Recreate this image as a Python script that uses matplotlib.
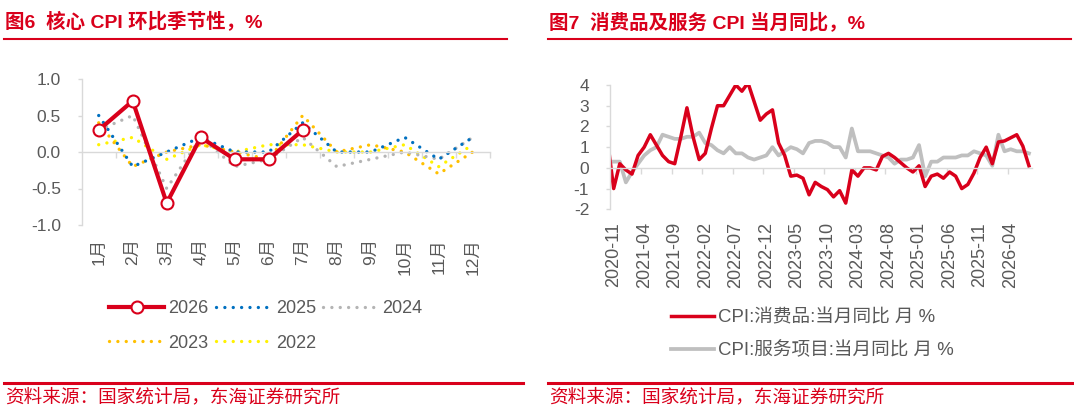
import numpy as np
import pandas as pd
import matplotlib
matplotlib.use('Agg')
import matplotlib.pyplot as plt
from matplotlib.lines import Line2D

plt.rcParams['font.family'] = ['Liberation Sans', 'Noto Sans CJK SC']
plt.rcParams['axes.unicode_minus'] = False

# ---------------- data ----------------
months = ['1月', '2月', '3月', '4月', '5月', '6月', '7月', '8月', '9月', '10月', '11月', '12月']
core_2026 = [0.3, 0.7, -0.7, 0.2, -0.1, -0.1, 0.3]
core_2025 = [0.5, -0.2, 0.0, 0.2, 0.0, 0.0, 0.4, 0.0, 0.0, 0.2, -0.1, 0.2]
core_2024 = [0.3, 0.5, -0.5, 0.2, -0.2, -0.1, 0.2, -0.2, -0.1, 0.0, -0.1, 0.2]
core_2023 = [0.4, -0.2, 0.0, 0.1, 0.0, -0.1, 0.5, 0.0, 0.1, 0.0, -0.3, 0.0]
core_2022 = [0.1, 0.2, -0.1, 0.1, 0.0, 0.1, 0.1, 0.0, 0.0, 0.1, -0.2, 0.1]

# monthly series 2020-10 .. 2026-07 (first month lies just left of the axis)
periods = pd.period_range('2020-10', '2026-07', freq='M')
goods_yoy = [1.3,
             -1.0, 0.2, -0.1, -0.3, 0.6, 1.0, 1.6, 1.1, 0.6, 0.3,
             0.2, 1.5, 2.9, 1.5, 0.4, 0.7, 1.9, 3.0, 3.0, 3.5,
             4.0, 3.7, 4.1, 3.2, 2.3, 2.6, 2.8, 1.2, 0.6, -0.4,
             -0.35, -0.5, -1.3, -0.7, -0.9, -1.05, -1.4, -1.1, -1.7, -0.1,
             -0.4, 0.0, 0.0, -0.1, 0.55, 0.7, 0.5, 0.25, 0.0, -0.2,
             0.1, -0.9, -0.4, -0.3, -0.5, -0.2, -0.4, -1.0, -0.8, -0.25,
             0.5, 1.0, 0.2, 1.25, 1.3, 1.45, 1.6, 1.05, 0.1]
services_yoy = [0.3,
                0.3, 0.3, -0.7, -0.2, 0.2, 0.6, 0.85, 1.0, 1.6, 1.5,
                1.4, 1.4, 1.5, 1.5, 1.7, 1.2, 1.1, 0.85, 0.7, 1.0,
                0.7, 0.7, 0.5, 0.4, 0.5, 0.6, 1.0, 0.6, 0.8, 1.0,
                0.9, 0.7, 1.2, 1.3, 1.3, 1.2, 1.0, 1.0, 0.5, 1.9,
                0.8, 0.8, 0.8, 0.7, 0.6, 0.5, 0.2, 0.4, 0.4, 0.5,
                1.1, -0.4, 0.3, 0.3, 0.5, 0.5, 0.5, 0.6, 0.6, 0.8,
                0.7, 0.6, 0.1, 1.6, 0.8, 0.9, 0.8, 0.8, 0.7]

title_left = '图6  核心 CPI 环比季节性，%'
title_right = '图7  消费品及服务 CPI 当月同比，%'
source_text = '资料来源：国家统计局，东海证券研究所'
legend_goods = 'CPI:消费品:当月同比 月 %'
legend_services = 'CPI:服务项目:当月同比 月 %'

# ---------------- style ----------------
W, H, DPI = 1074, 417, 100
RED = '#D9001B'
BLUE = '#0070C0'
GRAY = '#BFBFBF'
DOTGRAY = '#B4B4B4'
ORANGE = '#FFC000'
YELLOW = '#FFF200'
AXC = '#D9D9D9'
TXT = '#595959'
DOT = (0, (0.01, 2.5))
DOT_LW = 2.4

fig = plt.figure(figsize=(W / DPI, H / DPI), dpi=DPI)
fig.patch.set_facecolor('white')


def fy(py):
    return 1 - py / H


def style_axes(ax, xpad, xsize):
    for s in ['top', 'right']:
        ax.spines[s].set_visible(False)
    ax.spines['left'].set_color(AXC)
    ax.spines['left'].set_linewidth(1.0)
    ax.spines['bottom'].set_position(('data', 0))
    ax.spines['bottom'].set_color(AXC)
    ax.spines['bottom'].set_linewidth(1.0)
    ax.tick_params(axis='y', direction='out', length=3, width=1.0, color=AXC,
                   labelcolor=TXT, labelsize=12.5, pad=12)
    ax.tick_params(axis='x', which='major', length=0, labelcolor=TXT,
                   labelrotation=90, pad=xpad, labelsize=xsize)
    ax.tick_params(axis='x', which='minor', direction='out', length=4,
                   width=1.0, color=AXC)
    ax.set_facecolor('none')


# ---------------- left chart ----------------
axL = fig.add_axes([81.7 / W, (H - 225) / H, 408 / W, 146 / H])
xm = np.arange(len(months))
hl22, = axL.plot(xm, core_2022, color=YELLOW, lw=DOT_LW, ls=DOT, dash_capstyle='round', label='2022')
hl23, = axL.plot(xm, core_2023, color=ORANGE, lw=DOT_LW, ls=DOT, dash_capstyle='round', label='2023')
hl24, = axL.plot(xm, core_2024, color=DOTGRAY, lw=DOT_LW, ls=DOT, dash_capstyle='round', label='2024')
hl25, = axL.plot(xm, core_2025, color=BLUE, lw=DOT_LW, ls=DOT, dash_capstyle='round', label='2025')
hl26, = axL.plot(np.arange(len(core_2026)), core_2026, color=RED, lw=3.0, marker='o',
                 ms=8.6, mfc='white', mec=RED, mew=1.5, label='2026', zorder=5)
axL.set_xlim(-0.5, len(months) - 0.5)
axL.set_ylim(-1.0, 1.0)
axL.set_yticks([1.0, 0.5, 0.0, -0.5, -1.0])
axL.set_yticklabels(['1.0', '0.5', '0.0', '-0.5', '-1.0'])
axL.set_xticks(xm)
axL.set_xticklabels(months)
axL.set_xticks(np.arange(0.5, len(months), 1.0), minor=True)
style_axes(axL, xpad=62, xsize=12.5)

# ---------------- right chart ----------------
axR = fig.add_axes([610 / W, (H - 209.3) / H, 422 / W, 124.3 / H])
xr = np.arange(-1, len(periods) - 1)
axR.plot(xr, services_yoy, color=GRAY, lw=2.7, solid_joinstyle='round', label=legend_services)
axR.plot(xr, goods_yoy, color=RED, lw=2.5, solid_joinstyle='round', label=legend_goods)
axR.set_xlim(-0.6, 68.5)
axR.set_ylim(-2, 4)
axR.set_yticks([4, 3, 2, 1, 0, -1, -2])
lab_idx = np.arange(0, len(periods) - 1, 5)
axR.set_xticks(lab_idx)
axR.set_xticklabels([periods[i + 1].strftime('%Y-%m') for i in lab_idx])
axR.set_xticks(lab_idx[1:] - 0.5, minor=True)
style_axes(axR, xpad=39, xsize=13)

# ---------------- legends ----------------
fig.legend([hl26, hl23, hl25, hl22, hl24], ['2026', '2023', '2025', '2022', '2024'],
           loc='upper left', bbox_to_anchor=(109 / W, fy(300)), ncol=3, frameon=False,
           fontsize=13, handlelength=3.05, handletextpad=0.25, columnspacing=0.4,
           labelspacing=0.98, borderpad=0, borderaxespad=0, labelcolor=TXT)
hg = Line2D([], [], color=RED, lw=2.5)
hs = Line2D([], [], color=GRAY, lw=2.7)
fig.legend([hg, hs], [legend_goods, legend_services], loc='upper left',
           bbox_to_anchor=(671 / W, fy(309.5)), ncol=1, frameon=False, fontsize=13.4,
           handlelength=2.3, handletextpad=0.2, labelspacing=0.81, borderpad=0,
           borderaxespad=0, labelcolor=TXT)

# ---------------- titles, rules, sources ----------------
fig.text(5 / W, fy(22), title_left, color=RED, fontsize=14, fontweight='bold', va='center', ha='left')
fig.text(549 / W, fy(22), title_right, color=RED, fontsize=14, fontweight='bold', va='center', ha='left')
for x0, x1 in [(4, 507), (548, 1071)]:
    fig.add_artist(Line2D([x0 / W, x1 / W], [fy(39), fy(39)], color=RED, lw=1.5))
for x0, x1 in [(4, 523), (548, 1072)]:
    fig.add_artist(Line2D([x0 / W, x1 / W], [fy(383), fy(383)], color=RED, lw=2.2))
fig.text(5 / W, fy(397), source_text, color=RED, fontsize=13.4, va='center', ha='left')
fig.text(549 / W, fy(397), source_text, color=RED, fontsize=13.4, va='center', ha='left')

fig.savefig('out.png', dpi=DPI, facecolor='white')
